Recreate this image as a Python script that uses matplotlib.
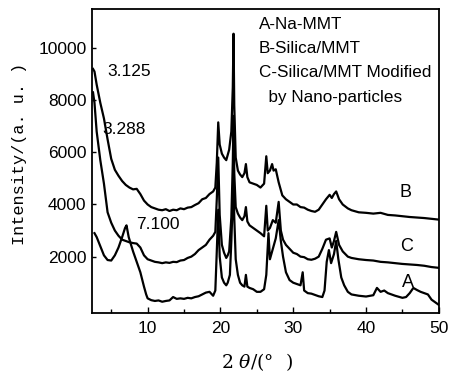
import matplotlib
matplotlib.use("Agg")
import matplotlib.pyplot as plt

# ---- data ----
b_x = [2.5, 2.7, 3.0, 3.5, 4.0, 4.5, 5.0, 5.5, 6.0, 6.5, 7.0, 7.5, 8.0, 8.5, 9.0, 9.5, 10.0, 10.5, 11.0, 11.5,
       12, 12.5, 13, 13.5, 14, 14.5, 15, 15.5, 16, 16.5, 17, 17.5, 18, 18.5, 19.0, 19.3, 19.5, 19.7, 19.9, 20.2,
       20.5, 20.8, 21.0, 21.2, 21.5, 21.7, 21.8, 21.9, 22.1, 22.4, 22.7, 23.0, 23.3, 23.5, 23.7, 24, 24.5, 25,
       25.5, 26, 26.3, 26.5, 26.8, 27.1, 27.3, 27.6, 28, 28.5, 29, 29.5, 30, 30.5, 31, 31.5, 32, 32.5, 33, 33.5,
       34, 34.5, 35, 35.3, 35.6, 35.9, 36.3, 36.8, 37.5, 38, 39, 40, 41, 42, 43, 44, 45, 46, 47, 48, 49, 50]
b_y = [9200, 9100, 8600, 7900, 7300, 6500, 5750, 5330, 5100, 4900, 4750, 4650, 4580, 4600, 4400, 4150, 4000, 3900, 3850, 3800,
       3780, 3820, 3750, 3800, 3780, 3850, 3820, 3880, 3900, 3980, 4050, 4200, 4250, 4400, 4500, 4650, 5600, 7150, 6300, 5950,
       5800, 5700, 5900, 6100, 6800, 8500, 10550, 7800, 5800, 5300, 5150, 5050, 5200, 5550, 5050, 4850, 4800, 4750,
       4650, 4800, 5850, 5200, 5300, 5550, 5300, 5350, 4850, 4350, 4200, 4100, 4000, 4000, 3900, 3880, 3800, 3750, 3720, 3800,
       4000, 4200, 4370, 4250, 4400, 4500, 4200, 4000, 3850, 3780, 3700, 3680, 3650, 3680, 3600, 3580, 3550, 3520, 3500, 3480, 3450, 3420]

c_x = [2.5, 2.7, 3.0, 3.5, 4.0, 4.5, 5.0, 5.5, 6.0, 6.5, 7.0, 7.5, 8.0, 8.5, 9.0, 9.5, 10, 10.5, 11, 11.5,
       12, 12.5, 13, 13.5, 14, 14.5, 15, 15.5, 16, 16.5, 17, 17.5, 18, 18.5, 19.0, 19.3, 19.5, 19.7, 19.9, 20.2,
       20.5, 20.8, 21.0, 21.2, 21.5, 21.7, 21.8, 21.9, 22.1, 22.4, 22.7, 23, 23.3, 23.5, 23.7, 24, 24.5, 25,
       25.5, 26, 26.3, 26.5, 26.8, 27.2, 27.6, 28.0, 28.3, 28.6, 29, 29.5, 30, 30.5, 31, 31.5, 32, 32.5, 33, 33.5,
       34, 34.5, 35, 35.3, 35.6, 35.9, 36.3, 36.8, 37.5, 38, 39, 40, 41, 42, 43, 44, 45, 46, 47, 48, 49, 50]
c_y = [8300, 7900, 6800, 5700, 4800, 3700, 3300, 3000, 2800, 2650, 2600, 2550, 2520, 2500, 2350, 2050, 1900, 1850, 1800, 1780,
       1750, 1780, 1760, 1800, 1790, 1850, 1870, 1950, 2000, 2100, 2250, 2350, 2450, 2650, 2800, 2950, 4200, 5800, 3600, 2450,
       2150, 1950, 2050, 2200, 3500, 5600, 7400, 5200, 3900, 3650, 3500, 3400, 3550, 3900, 3350, 3200, 3100, 3000,
       2900, 2780, 3950, 3000, 3100, 3400, 3300, 4100, 3000, 2650, 2450, 2300, 2150, 2100, 2000, 1980, 1900, 1880, 1920, 2000,
       2300, 2650, 2700, 2350, 2600, 2950, 2450, 2200, 2000, 1950, 1900, 1870, 1850, 1800, 1780, 1750, 1720, 1700, 1680, 1650, 1600, 1570]

a_x = [2.7, 3.0, 3.5, 4.0, 4.5, 5.0, 5.5, 6.0, 6.5, 6.9, 7.1, 7.4, 8.0, 8.5, 9.0, 9.5, 9.8, 10, 10.5, 11,
       11.5, 12, 12.5, 13, 13.5, 14, 14.5, 15, 15.5, 16, 16.5, 17, 17.5, 18, 18.5, 19.0, 19.3, 19.5, 19.7, 19.9,
       20.2, 20.5, 20.8, 21.0, 21.3, 21.5, 21.7, 21.8, 21.9, 22.1, 22.4, 22.7, 23, 23.3, 23.5, 23.7, 24, 24.5,
       25, 25.5, 26, 26.3, 26.6, 26.8, 27.2, 27.6, 28.0, 28.3, 28.6, 29, 29.5, 30, 30.5, 31, 31.3, 31.5, 32, 32.5,
       33, 33.5, 34, 34.3, 34.6, 34.9, 35.2, 35.6, 35.9, 36.2, 36.6, 37, 37.5, 38, 39, 40, 41, 41.5, 42, 42.5,
       43, 44, 45, 45.5, 46, 46.5, 47, 47.5, 48, 48.5, 49, 49.5, 50]
a_y = [2900, 2750, 2400, 2050, 1870, 1850, 2050, 2350, 2750, 3100, 3200, 2750, 2200, 1800, 1400, 850, 550, 400, 330, 300,
       320, 270, 300, 320, 450, 380, 400, 380, 420, 400, 450, 480, 550, 620, 650, 500, 700, 2200, 3800, 2000,
       1200, 1000, 900, 1000, 1300, 2600, 4200, 5000, 3500, 1900, 1300, 1000, 900, 850, 1300, 850, 800, 750,
       650, 650, 750, 1300, 2900, 1900, 2300, 2700, 3400, 2600, 2000, 1400, 1100, 1000, 950, 900, 1400, 700, 600, 580,
       530, 480, 450, 700, 1800, 2250, 1750, 2100, 2600, 1900, 1200, 900, 650, 550, 500, 470, 520, 800, 650, 700,
       600, 500, 420, 450, 600, 800, 720, 650, 600, 550, 350, 250, 150]

y_ticks = [2000, 4000, 6000, 8000, 10000]
x_ticks = [10, 20, 30, 40, 50]

legend_lines = ["A-Na-MMT", "B-Silica/MMT", "C-Silica/MMT Modified", "  by Nano-particles"]
peak_labels = [("3.125", 4.45, 9100), ("3.288", 3.76, 6870), ("7.100", 8.4, 3220)]
curve_labels = [("B", 45.4, 4450), ("C", 45.5, 2370), ("A", 45.8, 990)]

# ---- plot ----
plt.rcParams['mathtext.fontset'] = 'custom'
plt.rcParams['mathtext.it'] = 'DejaVu Serif:italic'
plt.rcParams['mathtext.rm'] = 'DejaVu Serif'

fig = plt.figure(figsize=(4.51, 3.73), dpi=100)
ax = fig.add_axes([0.204, 0.161, 0.769, 0.815])

for xs, ys in [(b_x, b_y), (c_x, c_y), (a_x, a_y)]:
    ax.plot(xs, ys, color='black', linewidth=1.6)

ax.set_xlim(2.36, 50)
ax.set_ylim(-160, 11500)
ax.set_xticks(x_ticks)
ax.set_xticks([5, 15, 25, 35, 45], minor=True)
ax.set_yticks(y_ticks)
ax.tick_params(axis='both', which='both', direction='in', width=1.0)
ax.tick_params(axis='x', which='major', length=4, labelsize=12.5, pad=6)
ax.tick_params(axis='x', which='minor', length=3)
ax.tick_params(axis='y', which='major', length=3, labelsize=12.5, pad=4)
for lab in ax.get_xticklabels() + ax.get_yticklabels():
    lab.set_family('Liberation Sans')
for s in ax.spines.values():
    s.set_linewidth(1.3)

fig.text(20 / 451, 1 - 153.5 / 373, "Intensity/(a. u. )", family='Liberation Mono', fontsize=12.2,
         rotation=90, ha='center', va='center')
fig.text(257 / 451, 1 - 362 / 373, r"2 $\it{\theta}$/(°  )", family='DejaVu Serif', fontsize=13.5,
         ha='center', va='center')

for i, t in enumerate(legend_lines):
    ax.text(25.3, 10910 - i * 930, t, family='Liberation Sans', fontsize=12.3, va='center', ha='left')
for t, x, y in peak_labels:
    ax.text(x, y, t, family='Liberation Sans', fontsize=12.5, va='center', ha='left')
for t, x, y in curve_labels:
    ax.text(x, y, t, family='Liberation Sans', fontsize=13, va='center', ha='center')

fig.savefig("out.png", dpi=100)
